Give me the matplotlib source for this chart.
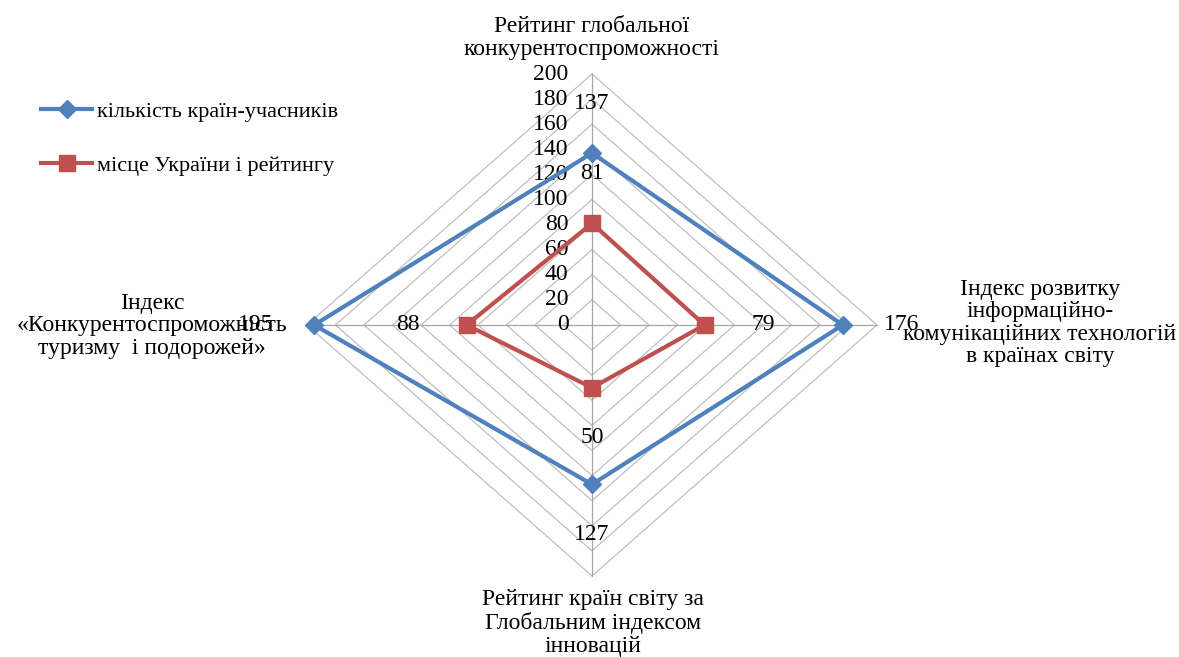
import numpy as np
import matplotlib.pyplot as plt
from matplotlib.lines import Line2D

# categories (clockwise from top) and series values
categories = ['Рейтинг глобальної\nконкурентоспроможності',
              'Індекс розвитку\nінформаційно-\nкомунікаційних технологій\nв країнах світу',
              'Рейтинг країн світу за\nГлобальним індексом\nінновацій',
              'Індекс\n«Конкурентоспроможність\nтуризму  і подорожей»']
countries = [137, 176, 127, 195]
ukraine = [81, 79, 50, 88]
series_names = ['кількість країн-учасників', 'місце України і рейтингу']
ticks = list(range(0, 201, 20))

plt.rcParams['font.family'] = ['Liberation Serif', 'DejaVu Serif']
plt.rcParams['font.size'] = 17

W, H = 1179, 657
fig = plt.figure(figsize=(W / 100, H / 100), dpi=100)
ax = fig.add_axes([0, 0, 1, 1])

# pixel geometry of the radar (chart is stretched horizontally like in Excel)
cx, cy = 592, 325
rx, ry = 285, 251
rmax = 200
ax.set_xlim(-cx / rx * rmax, (W - cx) / rx * rmax)
ax.set_ylim(-(H - cy) / ry * rmax, cy / ry * rmax)
ax.axis('off')

# direction of each axis: top, right, bottom, left
dirs = np.array([[0, 1], [1, 0], [0, -1], [-1, 0]])


def to_xy(vals):
    v = np.asarray(vals, dtype=float)
    pts = dirs * v[:, None]
    return np.vstack([pts, pts[:1]])


# grid rings
for t in ticks[1:]:
    p = to_xy([t] * 4)
    ax.plot(p[:, 0], p[:, 1], color='#BFBFBF', lw=0.9, zorder=1)
# spokes
for d in dirs:
    ax.plot([0, d[0] * rmax], [0, d[1] * rmax], color='#A6A6A6', lw=0.9, zorder=1)

# radial tick labels along the top spoke
for t in ticks:
    ax.annotate(str(t), (0, t), xytext=(-17, 0), textcoords='offset points',
                ha='right', va='center')

# series
colors = ['#4F81BD', '#C0504D']
markers = ['D', 's']
msizes = [9, 11]
for vals, c, m, ms in zip([countries, ukraine], colors, markers, msizes):
    p = to_xy(vals)
    ax.plot(p[:, 0], p[:, 1], color=c, lw=3, zorder=3)
    ax.plot(p[:-1, 0], p[:-1, 1], ls='none', marker=m, ms=ms, color=c, zorder=4)

# data labels
offsets = [(0, 36), (42, 0), (0, -36), (-42, 0)]
for vals in [countries, ukraine]:
    p = to_xy(vals)
    for i, v in enumerate(vals):
        ax.annotate(str(v), (p[i, 0], p[i, 1]), xytext=offsets[i],
                    textcoords='offset points', ha='center', va='center',
                    zorder=5)

# category labels (figure pixel positions)
label_pos = [(592, 38), (1040, 323), (593, 623), (152, 326)]
for txt, (px, py) in zip(categories, label_pos):
    ax.text(px / W, 1 - py / H, txt, transform=ax.transAxes,
            ha='center', va='center', linespacing=1.1)

# legend
handles = [Line2D([], [], color=c, lw=3, marker=m, ms=ms)
           for c, m, ms in zip(colors, markers, msizes)]
ax.legend(handles, series_names, loc='upper left',
          bbox_to_anchor=(30 / W, 1 - 90 / H), frameon=False,
          handlelength=2.3, handletextpad=0.2, labelspacing=1.5,
          fontsize=16, borderpad=0)

fig.savefig('out.png', dpi=100)
